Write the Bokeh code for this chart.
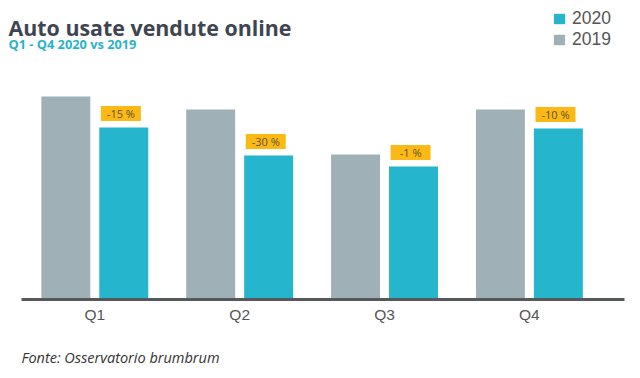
import numpy as np
from bokeh.plotting import figure
from bokeh.models import (ColumnDataSource, Range1d, FixedTicker, Label, Legend, LegendItem)
from bokeh.core.properties import value
from bokeh.embed import file_html
from bokeh.resources import INLINE

# ---- data ----
quarters = ["Q1", "Q2", "Q3", "Q4"]
sales_2019 = [203, 190, 145, 190]
sales_2020 = [172, 144, 133, 171]
changes = ["-15 %", "-30 %", "-1 %", "-10 %"]

C2019 = "#9fb1b6"
C2020 = "#25b5cc"
BOX = "#fdb913"

idx = np.arange(len(quarters))
src = ColumnDataSource(dict(
    q=quarters,
    x19=idx - 0.2,
    x20=idx + 0.2,
    v19=sales_2019,
    v20=sales_2020,
    bx=idx + 0.2 - 0.02,
    by=np.array(sales_2020) + 14,
    lab=changes,
))

p = figure(width=640, height=378, output_backend="svg", toolbar_location=None,
           x_range=Range1d(-0.651, 3.767), y_range=Range1d(-79, 299),
           y_axis_location=None, min_border=0)
p.outline_line_color = None
p.xgrid.grid_line_color = None
p.ygrid.grid_line_color = None
p.background_fill_color = "white"
p.border_fill_color = "white"

r19 = p.vbar(x="x19", top="v19", width=0.338, bottom=0, source=src,
             fill_color=C2019, line_color=None)
r20 = p.vbar(x="x20", top="v20", width=0.338, bottom=0, source=src,
             fill_color=C2020, line_color=None)

p.rect(x="bx", y="by", width=0.276, height=15, source=src,
       fill_color=BOX, line_color=None)
p.text(x="bx", y="by", text="lab", source=src, text_align="center",
       text_baseline="middle", text_font=value("Open Sans"),
       text_font_size="11px", text_color="#5b5235")

ax = p.xaxis[0]
ax.fixed_location = 0
ax.bounds = (-0.506, 3.657)
ax.ticker = FixedTicker(ticks=[int(i) for i in idx])
ax.major_label_overrides = {int(i): q for i, q in zip(idx, quarters)}
ax.major_tick_line_color = None
ax.minor_tick_line_color = None
ax.axis_line_width = 3
ax.axis_line_color = "#55595c"
ax.major_label_text_font = "Liberation Sans"
ax.major_label_text_font_size = "15.5px"
ax.major_label_text_color = "#555555"
ax.major_label_standoff = 0

# titles and footer (screen units relative to the frame)
p.add_layout(Label(x=8, y=351, x_units="screen", y_units="screen",
                   text="Auto usate vendute online", text_font="Open Sans",
                   text_font_style="bold", text_font_size="21.4px",
                   text_color="#3e4551", text_baseline="alphabetic"))
p.add_layout(Label(x=8, y=335, x_units="screen", y_units="screen",
                   text="Q1 - Q4 2020 vs 2019", text_font="Open Sans",
                   text_font_style="bold", text_font_size="12.8px",
                   text_color="#2ab3c8", text_baseline="alphabetic"))
p.add_layout(Label(x=21, y=21, x_units="screen", y_units="screen",
                   text="Fonte: Osservatorio brumbrum", text_font="Open Sans",
                   text_font_style="italic", text_font_size="14.5px",
                   text_color="#333333", text_baseline="alphabetic"))

legend = Legend(items=[LegendItem(label="2020", renderers=[r20]),
                       LegendItem(label="2019", renderers=[r19])],
                location=(552, 328), orientation="vertical",
                padding=0, margin=0, spacing=0,
                glyph_width=14, glyph_height=13, label_height=21,
                label_standoff=6, label_text_font="Liberation Sans",
                label_text_font_size="17.5px", label_text_color="#555555",
                border_line_color=None, background_fill_alpha=0)
p.add_layout(legend, "center")

open("out.html", "w").write(file_html(p, INLINE))
